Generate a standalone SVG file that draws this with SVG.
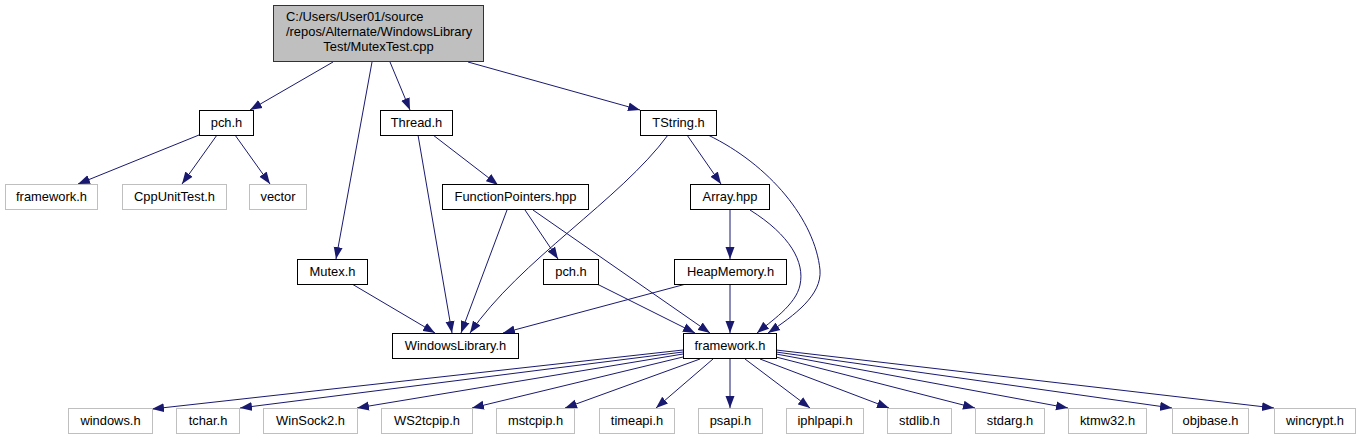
<svg xmlns="http://www.w3.org/2000/svg" width="1361" height="440" viewBox="0 0 1361 440">
<style>
rect{fill:#fff;stroke:#000;stroke-width:1}
.g rect{stroke:#bfbfbf}
#root rect{fill:#bfbfbf;stroke:#333}
text{font-family:"Liberation Sans",Arial,sans-serif;font-size:12.9px;text-anchor:middle;fill:#000}
#edges path{stroke:#191970;stroke-width:1;fill:none;marker-end:url(#a)}
</style>
<defs>
<marker id="a" markerUnits="userSpaceOnUse" markerWidth="13" markerHeight="10" refX="12" refY="5" orient="auto" viewBox="0 0 13 10">
<path d="M0,0.5 L12,5 L0,9.5 z" fill="#191970" stroke="none"/>
</marker>
</defs>
<rect x="0" y="0" width="1361" height="440" style="fill:#fff;stroke:none"/>
<g id="edges">
<path d="M333,62 L250,110"/>
<path d="M372,62 L336,259"/>
<path d="M390,62 L410,110"/>
<path d="M468,62 L640,110"/>
<path d="M199,135 L78,184"/>
<path d="M217,135 L182,184"/>
<path d="M235,135 L270,184"/>
<path d="M418,135 L452,333"/>
<path d="M433,135 L498,185"/>
<path d="M668,135 C620,200 520,260 470,333"/>
<path d="M687,135 L721,184"/>
<path d="M708,135 C770,165 815,220 820,270 C822,295 795,315 768,333"/>
<path d="M507,210 L461,333"/>
<path d="M525,210 L558,259"/>
<path d="M533,210 L710,333"/>
<path d="M730,210 L730,259"/>
<path d="M750,210 C790,235 805,262 800,285 C796,305 770,322 757,333"/>
<path d="M352,284 L435,333"/>
<path d="M597,284 L695,333"/>
<path d="M686,284 L503,333"/>
<path d="M730,284 L730,333"/>
<path d="M683,350 L152,409"/>
<path d="M683,352 L240,408"/>
<path d="M683,354 L357,408"/>
<path d="M683,357 L472,408"/>
<path d="M700,359 L565,408"/>
<path d="M713,359 L656,408"/>
<path d="M730,359 L730,408"/>
<path d="M745,359 L810,408"/>
<path d="M760,359 L889,408"/>
<path d="M776,357 L975,408"/>
<path d="M776,354 L1068,408"/>
<path d="M776,352 L1172,408"/>
<path d="M776,350 L1274,408"/>
</g>
<g id="root"><rect x="273.5" y="5.5" width="210" height="56"/>
<text x="286" y="21" style="text-anchor:start">C:/Users/User01/source</text>
<text x="286" y="36" style="text-anchor:start">/repos/Alternate/WindowsLibrary</text>
<text x="378.5" y="51">Test/MutexTest.cpp</text></g>
<g id="pch_h"><rect x="199.5" y="110.5" width="54" height="25"/><text x="226.5" y="127">pch.h</text></g>
<g id="thread_h"><rect x="380.5" y="110.5" width="72" height="25"/><text x="416.5" y="127">Thread.h</text></g>
<g id="tstring_h"><rect x="640.5" y="110.5" width="76" height="25"/><text x="678.5" y="127">TString.h</text></g>
<g id="framework_h_ext" class="g"><rect x="5.5" y="184.5" width="92" height="25"/><text x="51.5" y="201">framework.h</text></g>
<g id="cppunittest_h" class="g"><rect x="122.5" y="184.5" width="104" height="25"/><text x="174.5" y="201">CppUnitTest.h</text></g>
<g id="vector" class="g"><rect x="249.5" y="184.5" width="57" height="25"/><text x="278" y="201">vector</text></g>
<g id="functionpointers_hpp"><rect x="442.5" y="184.5" width="146" height="25"/><text x="515.5" y="201">FunctionPointers.hpp</text></g>
<g id="array_hpp"><rect x="690.5" y="184.5" width="79" height="25"/><text x="730" y="201">Array.hpp</text></g>
<g id="mutex_h"><rect x="297.5" y="259.5" width="70" height="25"/><text x="332.5" y="276">Mutex.h</text></g>
<g id="pch_h_2"><rect x="543.5" y="259.5" width="55" height="25"/><text x="571" y="276">pch.h</text></g>
<g id="heapmemory_h"><rect x="674.5" y="259.5" width="112" height="25"/><text x="730.5" y="276">HeapMemory.h</text></g>
<g id="windowslibrary_h"><rect x="392.5" y="333.5" width="126" height="25"/><text x="455.5" y="350">WindowsLibrary.h</text></g>
<g id="framework_h"><rect x="683.5" y="333.5" width="93" height="25"/><text x="730" y="350">framework.h</text></g>
<g id="windows_h" class="g"><rect x="68.5" y="408.5" width="84" height="25"/><text x="110.5" y="425">windows.h</text></g>
<g id="tchar_h" class="g"><rect x="176.5" y="408.5" width="63" height="25"/><text x="208" y="425">tchar.h</text></g>
<g id="winsock2_h" class="g"><rect x="263.5" y="408.5" width="94" height="25"/><text x="310.5" y="425">WinSock2.h</text></g>
<g id="ws2tcpip_h" class="g"><rect x="381.5" y="408.5" width="91" height="25"/><text x="427" y="425">WS2tcpip.h</text></g>
<g id="mstcpip_h" class="g"><rect x="496.5" y="408.5" width="78" height="25"/><text x="535.5" y="425">mstcpip.h</text></g>
<g id="timeapi_h" class="g"><rect x="599.5" y="408.5" width="75" height="25"/><text x="637" y="425">timeapi.h</text></g>
<g id="psapi_h" class="g"><rect x="698.5" y="408.5" width="64" height="25"/><text x="730.5" y="425">psapi.h</text></g>
<g id="iphlpapi_h" class="g"><rect x="786.5" y="408.5" width="77" height="25"/><text x="825" y="425">iphlpapi.h</text></g>
<g id="stdlib_h" class="g"><rect x="887.5" y="408.5" width="64" height="25"/><text x="919.5" y="425">stdlib.h</text></g>
<g id="stdarg_h" class="g"><rect x="975.5" y="408.5" width="69" height="25"/><text x="1010" y="425">stdarg.h</text></g>
<g id="ktmw32_h" class="g"><rect x="1068.5" y="408.5" width="78" height="25"/><text x="1107.5" y="425">ktmw32.h</text></g>
<g id="objbase_h" class="g"><rect x="1172.5" y="408.5" width="76" height="25"/><text x="1210.5" y="425">objbase.h</text></g>
<g id="wincrypt_h" class="g"><rect x="1274.5" y="408.5" width="81" height="25"/><text x="1315" y="425">wincrypt.h</text></g>
</svg>
